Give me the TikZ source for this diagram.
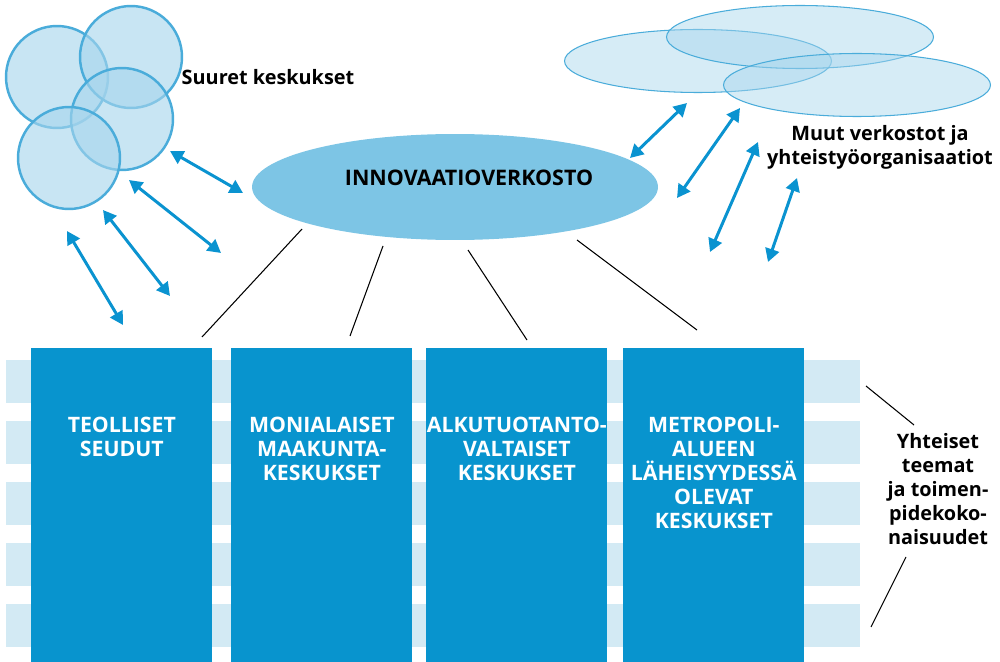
\documentclass[tikz,border=0pt]{standalone}
\usepackage{fontspec}
\setmainfont{Open Sans}
\usepackage{tikz}
\usetikzlibrary{arrows.meta,positioning,shapes.geometric}
\definecolor{bubble}{RGB}{166,213,236}
\definecolor{bubbleline}{RGB}{74,172,218}
\definecolor{netfill}{RGB}{125,197,229}
\definecolor{arrowblue}{RGB}{10,147,208}
\definecolor{boxblue}{RGB}{8,148,206}
\definecolor{stripe}{RGB}{211,234,244}
\tikzstyle{bigcentre}=[circle,draw=bubbleline,line width=1.4pt,fill=bubble,fill opacity=0.62,minimum size=2.04cm,inner sep=0pt]
\tikzstyle{cloud}=[ellipse,draw=bubbleline,line width=0.6pt,fill=bubble,fill opacity=0.46,minimum width=5.34cm,minimum height=1.26cm,inner sep=0pt]
\tikzstyle{twoway}=[arrowblue,line width=1.7pt,{Triangle[length=7.5pt,width=8pt]}-{Triangle[length=7.5pt,width=8pt]}]
\tikzstyle{column}=[rectangle,fill=boxblue,minimum width=3.62cm,minimum height=6.28cm,inner sep=0pt,anchor=north west]
\tikzstyle{coltext}=[text=white,font=\bfseries\fontsize{12.1}{13.6}\selectfont,align=center,inner sep=0pt]
\tikzstyle{sidetext}=[font=\bfseries\fontsize{11.3}{13.6}\selectfont,align=center,inner sep=0pt]
\tikzstyle{thin}=[black,line width=0.6pt]

\begin{document}
\begin{tikzpicture}[x=0.02cm,y=-0.02cm]
  \useasboundingbox (0,0) rectangle (1000,662);

  % teemat
  \foreach \y in {360,421,482,543,604}{
    \fill[stripe] (6,\y) rectangle (860,\y+43);
  }

  % keskustyypit
  \node[column] (teol) at (31,348) {};
  \node[column] (moni) at (231,348) {};
  \node[column] (alku) at (426,348) {};
  \node[column] (metro) at (623,348) {};
  \node[coltext,below=1.38cm of teol.north] (teoltxt) {TEOLLISET\\SEUDUT};
  \node[coltext,below=1.38cm of moni.north] (monitxt) {MONIALAISET\\MAAKUNTA-\\KESKUKSET};
  \node[coltext,below=1.38cm of alku.north] (alkutxt) {ALKUTUOTANTO-\\VALTAISET\\KESKUKSET};
  \node[coltext,below=1.38cm of metro.north] (metrotxt) {METROPOLI-\\ALUEEN\\LÄHEISYYDESSÄ\\OLEVAT\\KESKUKSET};

  % verkosto
  \node[ellipse,fill=netfill,minimum width=8.12cm,minimum height=2.12cm,inner sep=0pt] (innov) at (455,187) {};
  \node[sidetext,font=\bfseries\fontsize{12.2}{13.6}\selectfont,anchor=base] (innovtxt) at (469,186) {INNOVAATIOVERKOSTO};

  \coordinate (n1) at (302,229); \coordinate (k1) at (202,337);
  \coordinate (n2) at (383,246); \coordinate (k2) at (350,336);
  \coordinate (n3) at (468,250); \coordinate (k3) at (527,340);
  \coordinate (n4) at (577,240); \coordinate (k4) at (697,330);
  \foreach \i in {1,2,3,4}{
    \draw[thin] (n\i) -- (k\i);
  }

  % suuret keskukset
  \node[bigcentre] (c1) at (57,77) {};
  \node[bigcentre] (c2) at (131,57) {};
  \node[bigcentre] (c3) at (122,119) {};
  \node[bigcentre] (c4) at (69,158) {};
  \node[sidetext,anchor=base] (suuret) at (268,85) {Suuret keskukset};

  % muut verkostot
  \node[cloud] (e1) at (698,61) {};
  \node[cloud] (e2) at (800,37) {};
  \node[cloud] (e3) at (857,85) {};
  \node[sidetext] (muut) at (880,147) {Muut verkostot ja\\yhteistyöorganisaatiot};

  \foreach \n/\ax/\ay/\bx/\by in {1/170/151/243/193,2/129/180/221/253,
      3/103/210/170/296,4/67/231/123/325,5/687/103/630/158,
      6/740/108/677/198,7/758/142/710/252,8/797/178/768/262}{
    \coordinate (p\n) at (\ax,\ay);
    \coordinate (q\n) at (\bx,\by);
    \draw[twoway] (p\n) -- (q\n);
  }

  % yhteiset teemat
  \node[sidetext] (yht) at (938,489) {Yhteiset\\teemat\\ja toimen-\\pidekoko-\\naisuudet};
  \coordinate (y1) at (866,386); \coordinate (y2) at (914,425);
  \coordinate (y3) at (906,557); \coordinate (y4) at (871,627);
  \draw[thin] (y1) -- (y2);
  \draw[thin] (y3) -- (y4);
\end{tikzpicture}
\end{document}
